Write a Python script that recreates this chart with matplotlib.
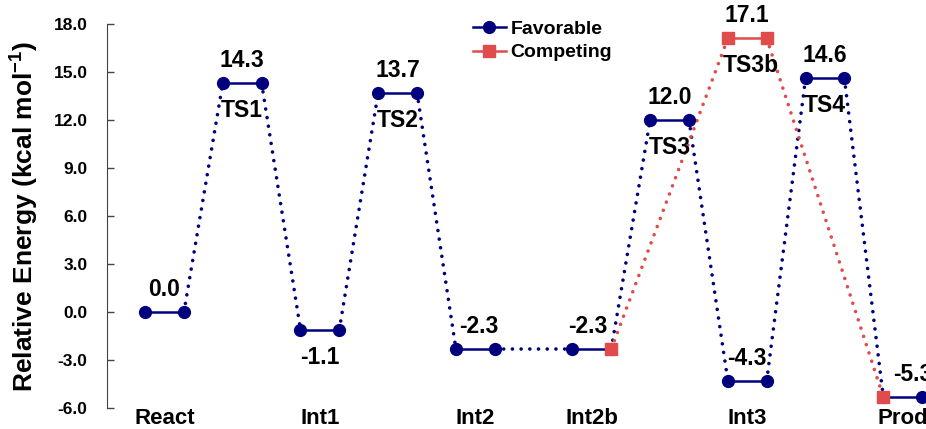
import matplotlib
matplotlib.use('Agg')
import matplotlib.pyplot as plt

plt.rcParams['font.family'] = ['Liberation Sans', 'DejaVu Sans']
plt.rcParams['font.weight'] = 'bold'

BLUE = '#00007f'
RED = '#e04c4c'

# favorable pathway: each state is a level drawn over two x slots
fav_names = ['React', 'TS1', 'Int1', 'TS2', 'Int2', 'Int2b', 'TS3', 'Int3', 'TS4', 'Prod']
fav_start = [0, 2, 4, 6, 8, 11, 13, 15, 17, 19]
fav_energy = [0.0, 14.3, -1.1, 13.7, -2.3, -2.3, 12.0, -4.3, 14.6, -5.3]

# competing pathway (Int2b -> TS3b -> Prod)
comp_x = [12, 15, 16, 19]
comp_energy = [-2.3, 17.1, 17.1, -5.3]

# bottom category labels
cat_labels = ['React', 'Int1', 'Int2', 'Int2b', 'Int3', 'Prod']
cat_pos = [0.5, 4.5, 8.5, 11.5, 15.5, 19.5]

# text labels: (x, y, text, above?)
value_labels = [
    (0.5, 0.0, '0.0', True), (2.5, 14.3, '14.3', True), (2.5, 14.3, 'TS1', False),
    (4.5, -1.1, '-1.1', False), (6.5, 13.7, '13.7', True), (6.5, 13.7, 'TS2', False),
    (8.6, -2.3, '-2.3', True), (11.4, -2.3, '-2.3', True), (13.5, 12.0, '12.0', True),
    (13.5, 12.0, 'TS3', False), (15.5, 17.1, '17.1', True), (15.6, 17.1, 'TS3b', False),
    (15.5, -4.3, '-4.3', True), (17.5, 14.6, '14.6', True), (17.5, 14.6, 'TS4', False),
    (19.75, -5.3, '-5.3', True),
]

fig = plt.figure(figsize=(9.26, 4.29), dpi=100)
ax = fig.add_axes([107 / 926, 21 / 429, 1 - 107 / 926, 384 / 429])

dot = (0, (0.01, 2.4))

# dotted connectors of favorable path
for i in range(len(fav_start) - 1):
    ax.plot([fav_start[i] + 1, fav_start[i + 1]], [fav_energy[i], fav_energy[i + 1]],
            color=BLUE, lw=2.6, linestyle=dot, dash_capstyle='round', zorder=2)
# competing dotted connectors
ax.plot(comp_x[:2], comp_energy[:2], color=RED, lw=2.6, linestyle=dot,
        dash_capstyle='round', zorder=2)
ax.plot(comp_x[2:], comp_energy[2:], color=RED, lw=2.6, linestyle=dot,
        dash_capstyle='round', zorder=2)

# favorable levels
for i, (s, e) in enumerate(zip(fav_start, fav_energy)):
    ax.plot([s, s + 1], [e, e], color=BLUE, lw=1.8, marker='o', markersize=8.5,
            zorder=3, label='Favorable' if i == 0 else None)

# competing markers and TS3b level
ax.plot(comp_x[1:3], comp_energy[1:3], color=RED, lw=1.8, zorder=4)
ax.plot(comp_x, comp_energy, color=RED, lw=0, marker='s', markersize=8, zorder=5)
ax.plot([], [], color=RED, lw=1.8, marker='s', markersize=8, label='Competing')

for x, y, t, above in value_labels:
    if above:
        ax.text(x, y + 0.7, t, ha='center', va='bottom', fontsize=16.5, fontweight='bold')
    else:
        ax.text(x, y - 1.0, t, ha='center', va='top', fontsize=16.5, fontweight='bold')

ax.set_xlim(-0.98, 20.1)
ax.set_ylim(-6, 18)
ax.set_yticks([-6, -3, 0, 3, 6, 9, 12, 15, 18])
ax.set_yticklabels(['%.1f' % v for v in [-6, -3, 0, 3, 6, 9, 12, 15, 18]],
                   fontsize=12.5, fontweight='bold')
ax.set_xticks(cat_pos)
ax.set_xticklabels(cat_labels, fontsize=16, fontweight='bold')
ax.tick_params(axis='x', length=0, pad=0)
ax.tick_params(axis='y', direction='in', length=5, width=1, color='#444444', pad=14)
for side in ['top', 'right', 'bottom']:
    ax.spines[side].set_visible(False)
ax.spines['left'].set_color('#444444')
ax.set_ylabel('Relative Energy (kcal mol$^{\\mathregular{-1}}$)', fontsize=19,
              fontweight='bold', labelpad=10)

ax.legend(loc='upper left', bbox_to_anchor=(0.437, 1.03), frameon=False, fontsize=14,
          handlelength=1.7, handletextpad=0.25, labelspacing=0.3, borderaxespad=0)

fig.savefig('out.png', dpi=100)
